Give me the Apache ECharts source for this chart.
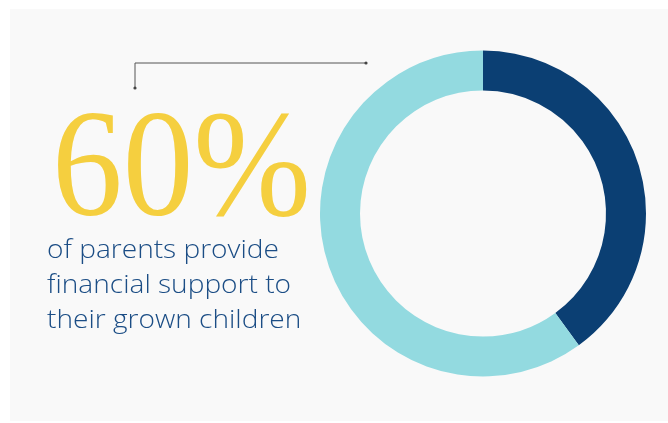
<!DOCTYPE html>
<html>
<head>
<meta charset="utf-8">
<script src="https://cdn.jsdelivr.net/npm/echarts@6/dist/echarts.min.js"></script>
<style>
  html, body { margin: 0; padding: 0; background: #ffffff; }
  #chart { width: 668px; height: 423px; }
</style>
</head>
<body>
<div id="chart"></div>
<script>
// share of parents: supporting vs not
const segmentNames = ['Do not provide support', 'Provide financial support'];
const segmentValues = [40, 60];
const segmentColors = ['#0b3f73', '#93dae0'];

const headline = '60%';
const captionLines = ['of parents provide', 'financial support to', 'their grown children'];

const chart = echarts.init(document.getElementById('chart'));

chart.setOption({
  backgroundColor: '#ffffff',
  animation: false,
  graphic: [
    {
      type: 'rect',
      shape: { x: 10, y: 9, width: 658, height: 412 },
      style: { fill: '#f9f9f9' },
      z: -10,
    },
    {
      type: 'polyline',
      shape: { points: [[135, 88], [135, 63], [366, 63]] },
      style: { stroke: '#555555', lineWidth: 1, fill: null },
    },
    { type: 'circle', shape: { cx: 135, cy: 88, r: 1.6 }, style: { fill: '#444' } },
    { type: 'circle', shape: { cx: 366, cy: 63, r: 1.6 }, style: { fill: '#444' } },
    {
      type: 'text',
      x: 52,
      y: 251,
      scaleX: 0.93,
      style: {
        text: headline,
        fill: '#f5cf3f',
        font: '152px "Liberation Serif", serif',
        verticalAlign: 'bottom',
      },
    },
    {
      type: 'text',
      x: 47,
      y: 233,
      scaleX: 1.08,
      style: {
        text: captionLines.join('\n'),
        fill: '#1b4d85',
        font: '300 26px "Open Sans", Roboto, sans-serif',
        lineHeight: 35,
        verticalAlign: 'top',
      },
    },
  ],
  series: [
    {
      type: 'pie',
      center: [483, 213.5],
      radius: [123, 163],
      startAngle: 90,
      clockwise: true,
      silent: true,
      label: { show: false },
      labelLine: { show: false },
      itemStyle: { borderWidth: 0 },
      data: segmentNames.map((name, i) => ({
        name,
        value: segmentValues[i],
        itemStyle: { color: segmentColors[i] },
      })),
    },
  ],
});
</script>
</body>
</html>
